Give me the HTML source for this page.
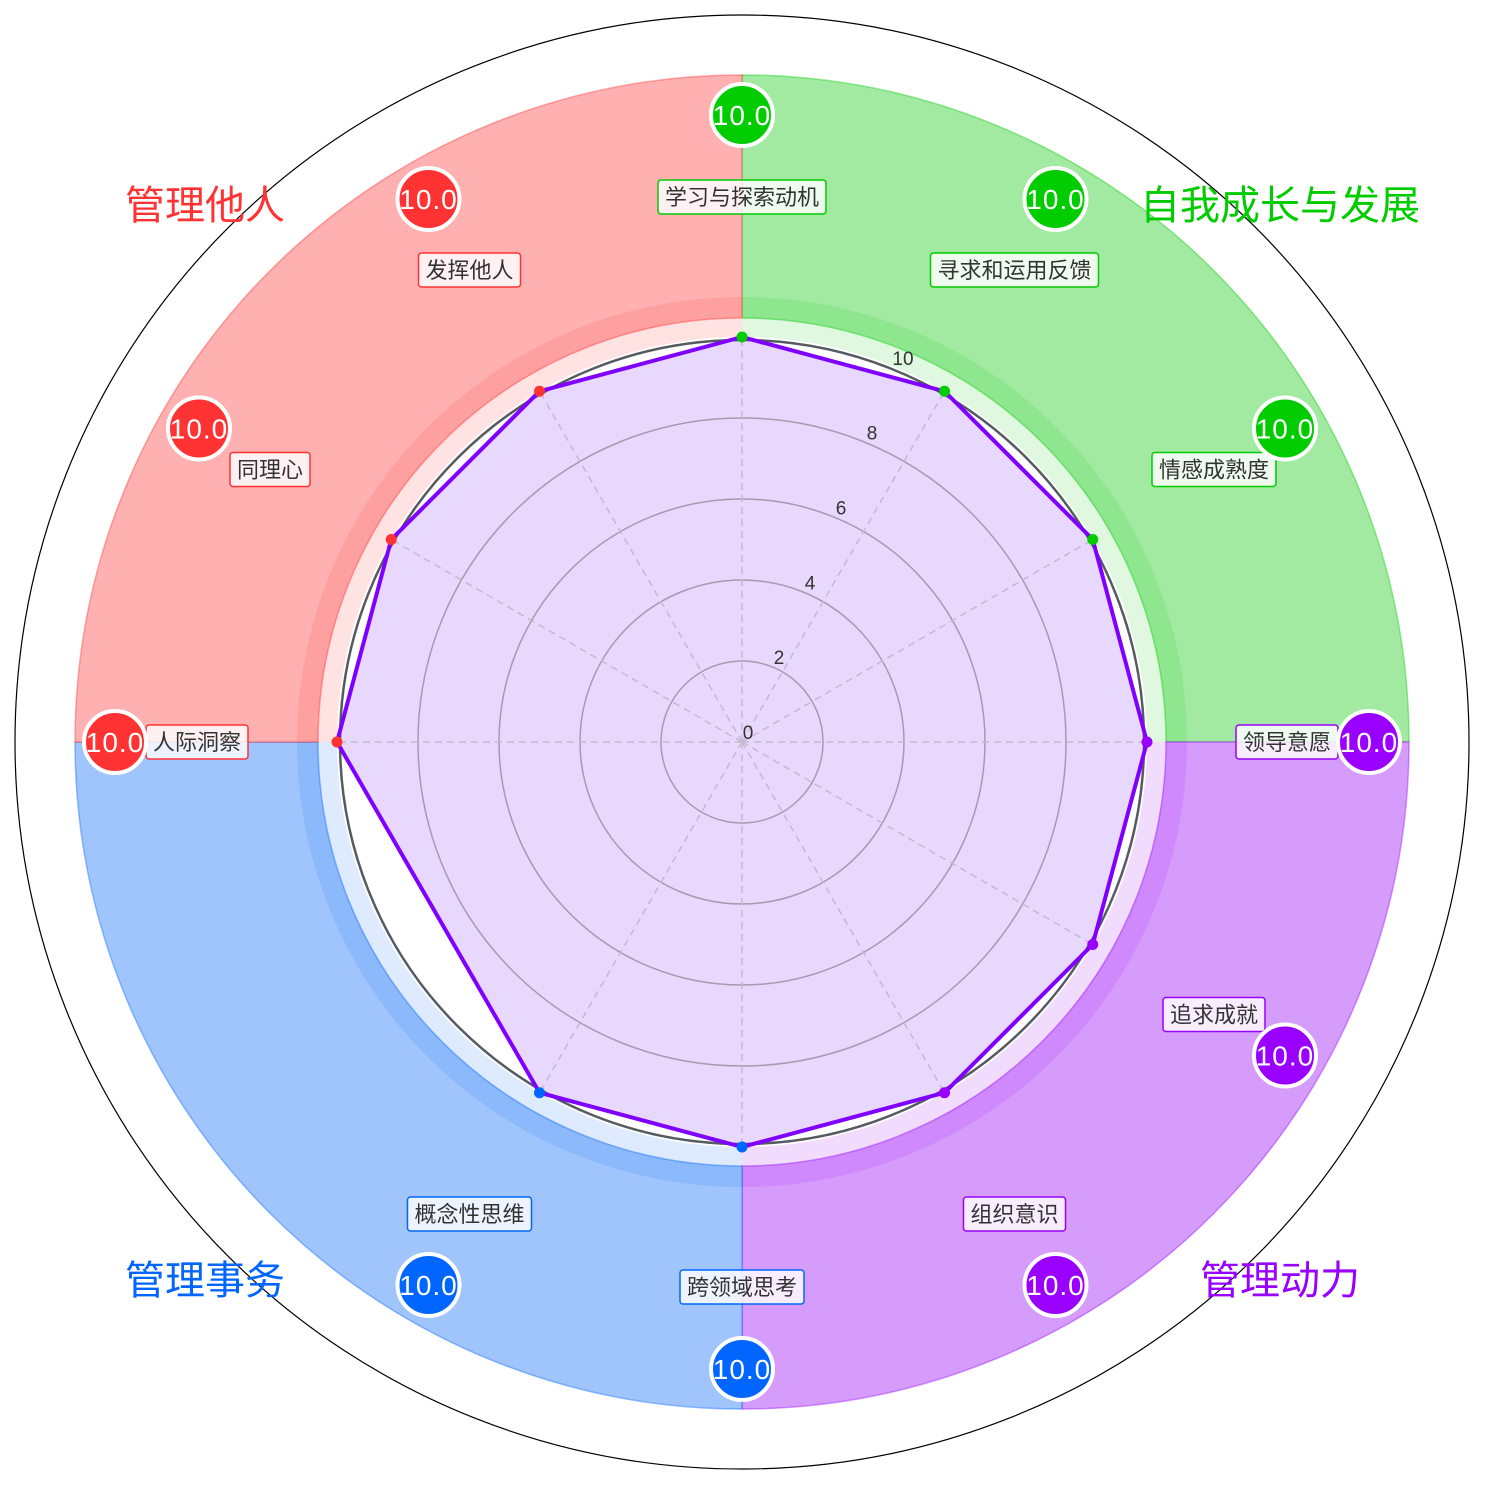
<!DOCTYPE html>
<html><head><meta charset="utf-8"><style>
html,body{margin:0;padding:0;background:#fff;}
svg{display:block;font-family:"Liberation Sans","Noto Sans CJK SC",sans-serif;}
</style></head><body>
<svg id="chart" width="1485" height="1485" viewBox="0 0 1485 1485" xmlns="http://www.w3.org/2000/svg"></svg>
<script>
const categories = ["学习与探索动机","寻求和运用反馈","情感成熟度","领导意愿","追求成就","组织意识","跨领域思考","概念性思维","人际洞察","同理心","发挥他人"];
const slots = [0,1,2,3,4,5,6,7,9,10,11];
const groupOf = [0,0,0,1,1,1,2,2,3,3,3];
const values = [10,10,10,10,10,10,10,10,10,10,10];
const groupNames = ["自我成长与发展","管理动力","管理事务","管理他人"];
const groupColors = ["#00cc00","#9900ff","#0066ff","#ff3333"];
const groupFills = ["#a2eaa2","#d69cfc","#a0c4fc","#ffb0b0"];
const ticks = [0,2,4,6,8,10];

const NS="http://www.w3.org/2000/svg";
const svg=document.getElementById('chart');
const cx=742, cy=742, unit=40.5, maxV=10;
function r(v){return v*unit;}
function ang(slot){return slot*Math.PI/6;}
function pt(rad,a){return [cx+rad*Math.sin(a), cy-rad*Math.cos(a)];}
function mk(tag,attrs,parent){const e=document.createElementNS(NS,tag);for(const k in attrs)e.setAttribute(k,attrs[k]);(parent||svg).appendChild(e);return e;}
function sector(r0,r1,a0,a1){
  const p0=pt(r1,a0),p1=pt(r1,a1),p2=pt(r0,a1),p3=pt(r0,a0);
  return `M${p0[0]},${p0[1]} A${r1},${r1} 0 0 1 ${p1[0]},${p1[1]} L${p2[0]},${p2[1]} A${r0},${r0} 0 0 0 ${p3[0]},${p3[1]} Z`;
}
let e=mk('circle',{cx:cx,cy:cy,r:727,fill:'none',stroke:'#000','stroke-width':1.2});


groupNames.forEach((g,i)=>{
  const a0=i*Math.PI/2,a1=(i+1)*Math.PI/2;
  let s=mk('path',{d:sector(405,424,a0,a1),fill:groupFills[i],opacity:0.35});
  
  
  s=mk('path',{d:sector(424,667,a0,a1),fill:groupFills[i],stroke:groupColors[i],'stroke-opacity':0.4,'stroke-width':1.5});
  
  
  s=mk('path',{d:sector(424,445,a0,a1),fill:groupColors[i],opacity:0.12});
  
  
});
const poly=slots.map((s,i)=>pt(r(values[i]),ang(s)).join(',')).join(' ');
e=mk('polygon',{points:poly,fill:'#e8d8fd'});


ticks.slice(1,-1).forEach(t=>{
  const c=mk('circle',{cx:cx,cy:cy,r:r(t),fill:'none',stroke:'#a899b0','stroke-width':1.5});
  
  
});
e=mk('circle',{cx:cx,cy:cy,r:r(maxV)-3,fill:'none',stroke:'#555b60','stroke-width':2.5});


slots.forEach(s=>{
  const p=pt(r(maxV),ang(s));
  const l=mk('line',{x1:cx,y1:cy,x2:p[0],y2:p[1],stroke:'#c7b8d0','stroke-width':1.5,'stroke-dasharray':'7,5'});
  
  
});
e=mk('polygon',{points:poly,fill:'none',stroke:'#7f00ff','stroke-width':4,'stroke-linejoin':'round'});


slots.forEach((s,i)=>{
  const p=pt(r(values[i]),ang(s));
  const c=mk('circle',{cx:p[0],cy:p[1],r:5.5,fill:groupColors[groupOf[i]]});
  
  
});
ticks.forEach(t=>{
  const p=pt(r(t),22.5*Math.PI/180);
  const tx=mk('text',{x:p[0]+6,y:p[1]-3,'font-size':19,fill:'#333','text-anchor':'middle'});
  tx.textContent=t;
  
  
});
slots.forEach((s,i)=>{
  const a=ang(s), col=groupColors[groupOf[i]];
  const lp=pt(545,a);
  const w=categories[i].length*22+14;
  const g=mk('g',{});
  
  
  mk('rect',{x:lp[0]-w/2,y:lp[1]-17,width:w,height:34,rx:3,fill:'#fff','fill-opacity':0.82,stroke:col,'stroke-width':1.5},g);
  const t=mk('text',{x:lp[0],y:lp[1]+8,'font-size':22,fill:'#333','text-anchor':'middle'},g);
  t.textContent=categories[i];
});
slots.forEach((s,i)=>{
  const a=ang(s), col=groupColors[groupOf[i]];
  const bp=pt(627,a);
  const g=mk('g',{});
  
  
  mk('circle',{cx:bp[0],cy:bp[1],r:31,fill:col,stroke:'#fff','stroke-width':4},g);
  const t=mk('text',{x:bp[0],y:bp[1]+10,'font-size':28,fill:'#fff','text-anchor':'middle','letter-spacing':'1'},g);
  t.textContent=values[i].toFixed(1);
});
const titlePos=[[1280,205],[1280,1280],[205,1280],[205,205]];
groupNames.forEach((n,i)=>{
  const t=mk('text',{x:titlePos[i][0],y:titlePos[i][1]+14,'font-size':40,fill:groupColors[i],'text-anchor':'middle'});
  t.textContent=n;
  
  
});
</script>
</body></html>
